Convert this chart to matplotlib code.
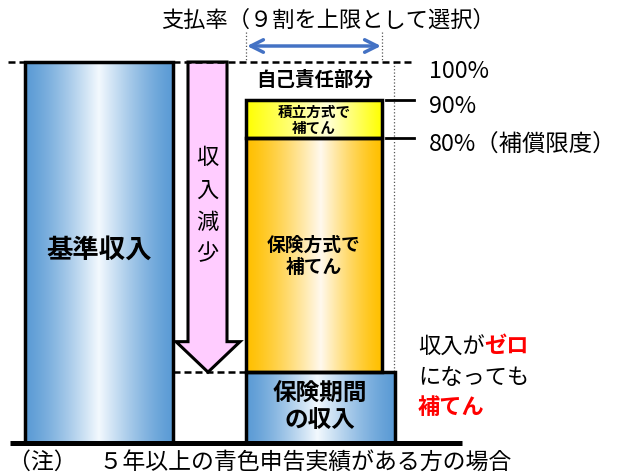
import numpy as np
import matplotlib
matplotlib.use("Agg")
import matplotlib.pyplot as plt
from matplotlib.patches import Rectangle, Polygon
from matplotlib.colors import to_rgb

plt.rcParams['font.family'] = ['Noto Sans CJK JP', 'DejaVu Sans']

# ---- data (percent of base income) ----
levels = [100, 90, 80]
level_labels = ["100%", "90%", "80%（補償限度）"]
insured_income = 18.6          # income during the insured period
arrow_head_len = 8.0
title = "支払率（９割を上限として選択）"
base_label = "基準収入"
drop_label = "収入減少"
self_label = "自己責任部分"
reserve_label = "積立方式で\n補てん"
insurance_label = "保険方式で\n補てん"
income_label = "保険期間\nの収入"
note = "（注）　５年以上の青色申告実績がある方の場合"

W, H = 621, 474
fig = plt.figure(figsize=(W / 100, H / 100), dpi=100)
ax = fig.add_axes([0, 0, 1, 1])
ax.axis('off')

# y-axis in percent: 0% at pixel 443, 100% at pixel 62
px_per_pct = (443 - 62) / 100.0
ytop = 443 / px_per_pct
ybot = -(H - 443) / px_per_pct


def py(p):
    """pixel row -> percent coordinate"""
    return (443 - p) / px_per_pct


def grad_rect(x0, x1, y0, y1, edge, center, cpos, power=1.3, lw=2.5, z=2):
    t = np.linspace(0, 1, 300)
    w = np.where(t < cpos, t / cpos, (1 - t) / (1 - cpos))
    w = w ** power
    e = np.array(to_rgb(edge))
    c = np.array(to_rgb(center))
    cols = e[None, :] * (1 - w[:, None]) + c[None, :] * w[:, None]
    ax.imshow(cols[None, :, :], extent=[x0, x1, y0, y1], aspect='auto',
              interpolation='bilinear', zorder=z)
    ax.add_patch(Rectangle((x0, y0), x1 - x0, y1 - y0, fill=False,
                           ec='black', lw=lw, zorder=z + 1))


blue_e, blue_c = '#5B9BD5', '#F3F9FE'
# base income bar
grad_rect(25, 173, 0, levels[0], blue_e, blue_c, 0.5)
# insured-period income
grad_rect(246, 395, 0, insured_income, blue_e, blue_c, 0.48)
# insurance compensation
grad_rect(246, 382, insured_income, levels[2], '#FFC000', '#FFF9EE', 0.55)
# reserve compensation
grad_rect(246, 382, levels[2], levels[1], '#FFFF00', '#FFFFD8', 0.6, power=1.0)

# pink arrow (income decrease)
sx0, sx1, hx0, hx1 = 188, 227, 176, 240
hs = insured_income + arrow_head_len
arrow = Polygon([(sx0, levels[0]), (sx1, levels[0]), (sx1, hs), (hx1, hs),
                 ((hx0 + hx1) / 2, insured_income), (hx0, hs), (sx0, hs)],
                closed=True, fc='#FFCCFF', ec='black', lw=2.2, zorder=4)
ax.add_patch(arrow)
ax.text((sx0 + sx1) / 2, py(206), "\n".join(drop_label), ha='center', va='center',
        fontsize=16, linespacing=1.5, zorder=5)

# dashed lines
ax.plot([8, 415], [levels[0], levels[0]], color='black', lw=1.8,
        dashes=(2.8, 1.6), zorder=6)
ax.plot([173, 246], [insured_income, insured_income], color='black', lw=1.8,
        dashes=(2.8, 1.6), zorder=6)

# dotted guides
ax.plot([246, 246], [py(32), levels[0]], color='#555555', lw=0.9, ls=':', zorder=6)
ax.plot([382, 382], [py(32), levels[0]], color='#555555', lw=0.9, ls=':', zorder=6)
ax.plot([394, 394], [levels[0], insured_income], color='#555555', lw=0.9, ls=':', zorder=1)

# double arrow for payout rate
ax.annotate('', xy=(381, py(46)), xytext=(247, py(46)),
            arrowprops=dict(arrowstyle='<->,head_length=0.9,head_width=0.45',
                            lw=2.5, color='#4472C4', shrinkA=0, shrinkB=0), zorder=7)

# tick marks at 90% and 80%
for lv in levels[1:]:
    ax.plot([386, 414], [lv, lv], color='black', lw=2, zorder=6)

# level labels
for lv, lab in zip(levels, level_labels):
    yy = lv - 2.4 if lv == 100 else lv - 1.8
    ax.text(429, yy, lab, ha='left', va='center', fontsize=16.8, zorder=8)

# baseline
ax.plot([10, 462], [0, 0], color='black', lw=3.6, solid_capstyle='butt', zorder=8)

# texts inside boxes
ax.text(99, 50.5, base_label, ha='center', va='center', fontsize=19,
        fontweight='bold', zorder=8)
ax.text(315, 95.2, self_label, ha='center', va='center', fontsize=14,
        fontweight='bold', zorder=8)
ax.text(314, 84.8, reserve_label, ha='center', va='center', fontsize=10.5,
        fontweight='bold', linespacing=1.05, zorder=8)
ax.text(314, 49.0, insurance_label, ha='center', va='center', fontsize=13.5,
        fontweight='bold', linespacing=1.25, zorder=8)
ax.text(320, 9.5, income_label, ha='center', va='center', fontsize=17,
        fontweight='bold', linespacing=1.15, zorder=8)

# title
ax.text(328, py(20), title, ha='center', va='center', fontsize=16, zorder=8)

# right side note
t1 = ax.text(418, py(347), "収入が", ha='left', va='center', fontsize=16, zorder=8)
ax.annotate("ゼロ", xy=(1, 0.5), xycoords=t1, ha='left', va='center',
            fontsize=16, fontweight='bold', color='#FF0000', zorder=8)
ax.text(418, py(378), "になっても", ha='left', va='center', fontsize=16, zorder=8)
ax.text(418, py(408), "補てん", ha='left', va='center', fontsize=16,
        fontweight='bold', color='#FF0000', zorder=8)

# footnote
ax.text(8, py(462), note, ha='left', va='center', fontsize=16.5, zorder=8)

ax.set_xlim(0, W)
ax.set_ylim(ybot, ytop)

fig.savefig("out.png", dpi=100)
